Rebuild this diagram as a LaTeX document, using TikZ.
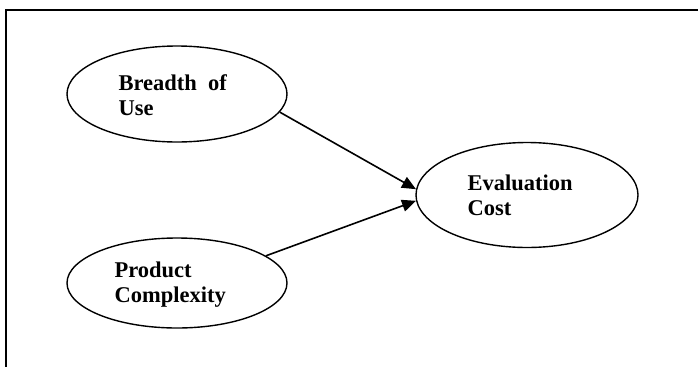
\documentclass[tikz,border=0pt]{standalone}
\usepackage{fontspec}
\setmainfont{Liberation Serif}
\usetikzlibrary{arrows.meta,shapes.geometric}
\begin{document}
\begin{tikzpicture}[x=1pt,y=-1pt,
  oval/.style={draw,line width=1.4pt,ellipse,inner sep=0pt},
  lbl/.style={align=left,anchor=base west,font=\fontsize{22.5}{25}\selectfont\bfseries},
  arr/.style={line width=1.6pt,-{Triangle[length=14pt,width=12pt]}}]
\useasboundingbox (0,0) rectangle (698,367);
\draw[line width=2.2pt] (698,10) -- (6,10) -- (6,367);
\node[oval,minimum width=220pt,minimum height=96pt] (a) at (177,94) {};
\node[oval,minimum width=220pt,minimum height=90pt] (b) at (177,283) {};
\node[oval,minimum width=222pt,minimum height=105pt] (c) at (527,195) {};
\node[lbl] (ta) at (115,115) {Breadth\ \ of\\Use};
\node[lbl] (tb) at (111,302) {Product\\Complexity};
\node[lbl] (tc) at (464,215) {Evaluation\\Cost};
\draw[arr] (a.-10) -- (c.177);
\draw[arr] (b.17) -- (c.183.5);
\end{tikzpicture}
\end{document}
